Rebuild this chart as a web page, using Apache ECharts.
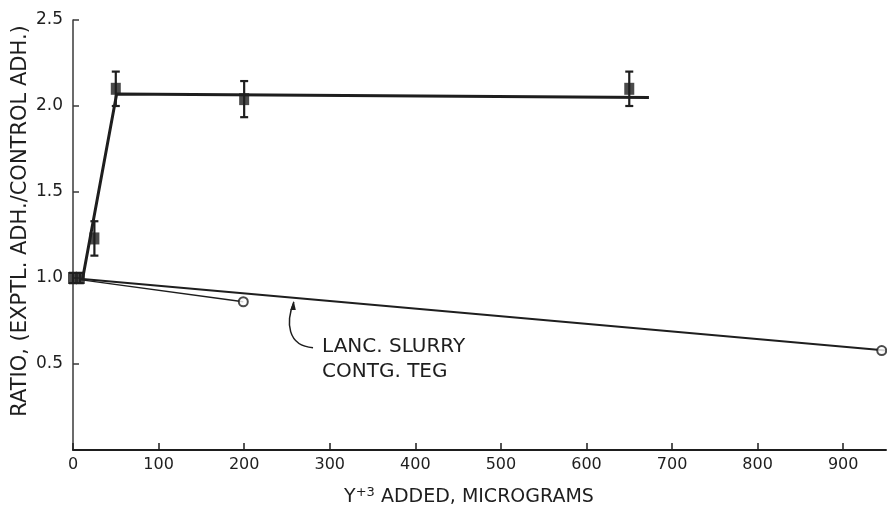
<!DOCTYPE html>
<html>
<head>
<meta charset="utf-8">
<script src="https://cdn.jsdelivr.net/npm/echarts@6/dist/echarts.min.js"></script>
<style>
  html, body { margin: 0; padding: 0; background: #ffffff; }
  #chart { width: 887px; height: 523px; }
</style>
</head>
<body>
<div id="chart"></div>
<script>
// Yttrium added (micrograms) vs. adhesion ratio
const doseSquares = [0, 8, 25, 50, 200, 650];
const ratioSquares = [1.0, 1.0, 1.23, 2.10, 2.04, 2.10];
const errSquares = [0.03, 0.03, 0.10, 0.10, 0.105, 0.10];

const doseCircles = [199, 945];
const ratioCircles = [0.862, 0.578];

// drawn trend lines
const riseFitX = [11, 51, 673];
const riseFitY = [0.99, 2.07, 2.05];
const slurryFitX = [8, 950];
const slurryFitY = [0.995, 0.578];
const slurryLinkX = [8, 199];
const slurryLinkY = [0.99, 0.862];

const xTicks = [0, 100, 200, 300, 400, 500, 600, 700, 800, 900];
const yTicks = [0.5, 1.0, 1.5, 2.0, 2.5];

const INK = '#1e1e1e';
const FONT = 'DejaVu Sans';

function pairs(xs, ys) { return xs.map((x, i) => [x, ys[i]]); }

const chart = echarts.init(document.getElementById('chart'), null, { renderer: 'canvas' });

const option = {
  animation: false,
  backgroundColor: '#ffffff',
  grid: { left: 73, right: 1, top: 20, bottom: 73 },
  xAxis: {
    type: 'value', min: 0, max: 950,
    axisLine: { show: true, lineStyle: { color: INK, width: 2 } },
    axisTick: { show: true, inside: true, length: 7, customValues: xTicks, lineStyle: { color: INK, width: 1.5 } },
    axisLabel: { customValues: xTicks, margin: 7, color: INK, fontFamily: FONT, fontSize: 16 },
    splitLine: { show: false }
  },
  yAxis: {
    type: 'value', min: 0, max: 2.5,
    axisLine: { show: true, lineStyle: { color: '#3a3a3a', width: 1.5 } },
    axisTick: { show: true, inside: true, length: 6, customValues: yTicks, lineStyle: { color: '#3a3a3a', width: 1.5 } },
    axisLabel: { customValues: yTicks, margin: 10, color: INK, fontFamily: FONT, fontSize: 17,
                 formatter: v => v.toFixed(1) },
    splitLine: { show: false }
  },
  series: [
    {
      type: 'line', data: pairs(riseFitX, riseFitY), symbol: 'none',
      lineStyle: { color: INK, width: 3 }, z: 3
    },
    {
      type: 'line', data: pairs(slurryFitX, slurryFitY), symbol: 'none',
      lineStyle: { color: INK, width: 2 }, z: 3
    },
    {
      type: 'line', data: pairs(slurryLinkX, slurryLinkY), symbol: 'none',
      lineStyle: { color: INK, width: 1.3 }, z: 3
    },
    {
      type: 'custom',
      data: doseSquares.map((x, i) => [x, ratioSquares[i] - errSquares[i], ratioSquares[i] + errSquares[i]]),
      renderItem: function (params, api) {
        const lo = api.coord([api.value(0), api.value(1)]);
        const hi = api.coord([api.value(0), api.value(2)]);
        const cap = 4;
        const st = { stroke: INK, lineWidth: 2.2 };
        return {
          type: 'group',
          children: [
            { type: 'line', shape: { x1: lo[0], y1: lo[1], x2: hi[0], y2: hi[1] }, style: st },
            { type: 'line', shape: { x1: lo[0] - cap, y1: lo[1], x2: lo[0] + cap, y2: lo[1] }, style: st },
            { type: 'line', shape: { x1: hi[0] - cap, y1: hi[1], x2: hi[0] + cap, y2: hi[1] }, style: st }
          ]
        };
      },
      z: 4
    },
    {
      type: 'scatter', data: pairs(doseSquares, ratioSquares),
      symbol: 'rect', symbolSize: [10, 12],
      itemStyle: { color: INK }, z: 5
    },
    {
      type: 'scatter', data: pairs(doseCircles, ratioCircles),
      symbol: 'circle', symbolSize: 9,
      itemStyle: { color: '#ffffff', borderColor: INK, borderWidth: 2 }, z: 5
    }
  ]
};
chart.setOption(option);

// axis titles and the curve label with its pointer
function drawAnnotations() {
  const at = p => chart.convertToPixel({ gridIndex: 0 }, p);
  const tip = at([258, 0.872]);
  const textPos = at([291, 0.67]);
  const start = [textPos[0] - 9, textPos[1] + 13];
  chart.setOption({
    graphic: [
      {
        type: 'text', x: 21, y: 221, rotation: Math.PI / 2,
        style: {
          text: 'RATIO, (EXPTL. ADH./CONTROL ADH.)',
          fontFamily: FONT, fontSize: 21, fill: INK,
          align: 'center', verticalAlign: 'middle'
        }
      },
      {
        type: 'text', x: 469, y: 497,
        style: {
          text: '{b|Y}{s|+3}{b| ADDED, MICROGRAMS}',
          align: 'center', verticalAlign: 'middle',
          rich: {
            b: { fontFamily: FONT, fontSize: 19, fill: INK, lineHeight: 22 },
            s: { fontFamily: FONT, fontSize: 13, fill: INK, verticalAlign: 'top', lineHeight: 14 }
          }
        }
      },
      {
        type: 'text', x: textPos[0], y: textPos[1],
        style: {
          text: 'LANC. SLURRY\nCONTG. TEG',
          fontFamily: FONT, fontSize: 20, fill: INK, lineHeight: 25,
          align: 'left', verticalAlign: 'top'
        }
      },
      {
        type: 'bezierCurve',
        shape: {
          x1: start[0], y1: start[1],
          cpx1: start[0] - 26, cpy1: start[1] - 2,
          cpx2: tip[0] - 8, cpy2: tip[1] + 22,
          x2: tip[0], y2: tip[1] + 2
        },
        style: { stroke: INK, lineWidth: 1.5, fill: null }
      },
      {
        type: 'polygon',
        shape: { points: [[tip[0], tip[1] + 1], [tip[0] - 3.5, tip[1] + 10], [tip[0] + 2, tip[1] + 10]] },
        style: { fill: INK }
      }
    ]
  });
}
drawAnnotations();
</script>
</body>
</html>
